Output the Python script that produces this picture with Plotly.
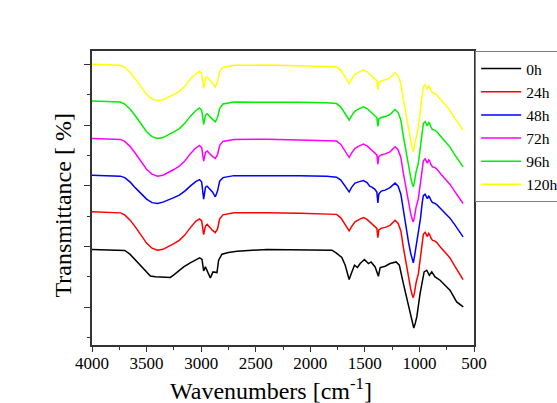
import plotly.graph_objects as go

# Shared wavenumber grid for the 24h-120h spectra (cm^-1)
wn = [4000, 3850, 3740, 3700, 3650, 3600, 3550, 3500, 3450, 3400,
      3350, 3300, 3250, 3200, 3150, 3100, 3050, 3015, 2995, 2977,
      2960, 2945, 2920, 2895, 2870, 2850, 2830, 2800, 2700, 2400,
      2100, 1850, 1760, 1720, 1690, 1665, 1644, 1620, 1590, 1550,
      1513, 1480, 1455, 1436, 1410, 1390, 1381, 1372, 1350, 1314,
      1270, 1223, 1195, 1170, 1147, 1120, 1100, 1080, 1065, 1056,
      1045, 1030, 1010, 990, 975, 964, 948, 935, 927, 915,
      907, 895, 880, 860, 841, 800, 760, 720, 680, 640,
      600]

t120 = [280.4, 279.9, 279.4, 277.4, 272.4, 265.4, 257.4, 250.4, 245.9, 244.0,
        244.9, 247.4, 250.4, 253.4, 258.4, 265.4, 270.9, 273.4, 271.4, 256.4,
        266.4, 267.9, 264.4, 261.9, 258.0, 263.4, 273.4, 277.4, 279.4, 279.6,
        278.9, 278.4, 277.9, 274.4, 269.4, 264.4, 261.4, 265.9, 270.4, 272.9,
        274.7, 272.9, 270.4, 268.9, 266.4, 263.9, 254.7, 262.4, 263.9, 264.9,
        266.9, 272.0, 268.9, 261.4, 244.7, 227.4, 214.4, 203.4, 196.4, 193.0,
        199.4, 209.4, 218.0, 235.4, 249.4, 258.0, 260.0, 256.9, 255.7, 258.9,
        258.0, 254.4, 251.9, 251.4, 249.7, 244.4, 239.4, 234.4, 227.4, 220.4,
        214.7]

t96 = [243.7, 243.3, 242.8, 240.7, 235.5, 228.5, 220.2, 213.0, 208.2, 206.4,
       207.2, 209.8, 212.9, 216.2, 221.4, 228.4, 234.0, 236.8, 234.5, 220.4,
       229.7, 231.0, 227.7, 225.4, 223.0, 227.0, 236.5, 240.7, 242.7, 242.9,
       242.4, 241.9, 241.2, 237.7, 232.7, 227.8, 224.8, 229.2, 233.7, 236.2,
       237.9, 236.2, 233.7, 232.2, 229.7, 227.2, 218.3, 225.7, 227.2, 228.2,
       230.2, 235.3, 232.2, 224.7, 208.5, 191.2, 178.2, 167.4, 160.7, 158.0,
       163.5, 173.2, 181.5, 198.7, 212.7, 221.3, 223.3, 220.2, 219.0, 222.2,
       221.3, 217.7, 215.2, 214.7, 213.0, 207.7, 202.7, 197.7, 190.7, 183.7,
       178.0]

t72 = [206.4, 206.0, 205.4, 203.4, 198.2, 191.1, 182.8, 175.6, 170.7, 168.7,
       169.6, 172.2, 175.3, 178.6, 183.8, 190.9, 196.7, 199.4, 197.2, 183.7,
       192.4, 193.8, 190.5, 188.2, 186.4, 190.2, 199.4, 203.4, 205.4, 205.6,
       204.9, 204.4, 203.9, 200.4, 195.4, 190.4, 187.4, 191.9, 196.4, 198.9,
       200.7, 198.9, 196.4, 194.9, 192.4, 189.9, 180.7, 188.4, 189.9, 190.9,
       192.9, 198.0, 194.9, 187.4, 171.4, 154.4, 141.7, 131.2, 125.2, 123.0,
       128.4, 137.9, 146.0, 163.0, 176.4, 184.0, 186.0, 182.9, 181.7, 184.9,
       184.0, 180.4, 177.9, 177.4, 175.7, 170.4, 165.4, 160.4, 153.9, 147.4,
       141.4]

t48 = [169.7, 169.4, 168.7, 167.2, 162.7, 156.7, 150.7, 145.7, 142.2, 141.4,
       142.7, 144.7, 147.2, 149.7, 153.7, 158.7, 163.2, 165.2, 162.7, 145.7,
       157.7, 158.7, 155.7, 152.7, 148.0, 153.7, 163.7, 167.2, 169.2, 169.4,
       169.2, 168.7, 167.7, 164.7, 160.2, 155.7, 153.0, 157.7, 161.7, 163.2,
       164.2, 162.2, 158.7, 157.7, 155.7, 152.7, 142.0, 150.7, 153.7, 154.7,
       157.2, 161.7, 158.7, 150.7, 133.7, 115.7, 102.7, 91.7, 84.7, 82.0,
       88.7, 99.7, 109.7, 126.7, 141.7, 149.2, 150.7, 147.7, 146.2, 148.7,
       147.7, 144.7, 142.2, 141.7, 140.2, 135.7, 131.2, 126.7, 120.7, 114.2,
       108.0]

t24 = [133.0, 132.5, 132.0, 130.0, 124.7, 117.5, 109.2, 101.8, 96.7, 94.7,
       95.6, 98.2, 101.3, 104.6, 109.8, 117.0, 123.5, 126.0, 124.0, 110.3,
       119.0, 120.5, 117.0, 114.5, 112.3, 116.0, 126.0, 130.0, 132.0, 132.2,
       131.5, 131.0, 130.5, 127.0, 122.0, 117.0, 114.0, 118.5, 123.0, 125.5,
       127.3, 125.5, 123.0, 121.5, 119.0, 116.5, 107.3, 115.0, 116.5, 117.5,
       119.5, 124.6, 121.5, 114.0, 97.3, 80.0, 67.0, 56.0, 49.4, 47.4,
       52.5, 62.5, 71.0, 88.0, 102.0, 110.6, 112.6, 109.5, 108.3, 111.5,
       110.6, 107.0, 104.5, 104.0, 102.3, 97.0, 92.0, 87.0, 79.5, 72.0,
       65.4]

# 0h spectrum has its own grid
wn0 = [4000, 3850, 3740, 3700, 3650, 3586, 3530, 3465, 3420, 3350,
       3297, 3282, 3250, 3200, 3160, 3100, 3068, 3014, 2992, 2977,
       2961, 2940, 2916, 2891, 2855, 2840, 2809, 2750, 2671, 2397,
       2092, 1802, 1763, 1711, 1680, 1644, 1619, 1595, 1568, 1543,
       1504, 1467, 1443, 1406, 1376, 1360, 1314, 1269, 1214, 1184,
       1147, 1116, 1086, 1065, 1052, 1040, 1024, 994, 957, 933,
       909, 887, 857, 811, 720, 659, 630, 598]
t0 = [95.4, 95.3, 95.0, 94.5, 90.5, 83.0, 76.5, 69.0, 68.2, 68.0,
      67.4, 67.5, 70.0, 74.5, 78.0, 82.0, 84.0, 87.0, 85.5, 74.0,
      78.0, 73.0, 67.0, 73.0, 72.4, 84.7, 90.7, 92.5, 93.7, 95.4,
      94.7, 94.7, 92.0, 87.4, 79.7, 65.4, 73.0, 79.7, 77.4, 81.4,
      85.4, 81.4, 83.0, 78.0, 68.7, 77.4, 78.7, 81.4, 83.0, 79.7,
      61.4, 46.4, 31.4, 22.0, 17.0, 21.0, 28.0, 51.4, 73.0, 74.7,
      69.7, 73.0, 68.0, 64.7, 54.7, 43.0, 40.5, 38.0]

names = ["0h", "24h", "48h", "72h", "96h", "120h"]
colors = ["#000000", "#ff0000", "#0000ff", "#ff00ff", "#00ee00", "#ffff00"]
series = [(wn0, t0), (wn, t24), (wn, t48), (wn, t72), (wn, t96), (wn, t120)]

FONT = "Liberation Serif, Times New Roman, serif"
AX = "#333333"

fig = go.Figure()
for (x, y), n, c in zip(series, names, colors):
    fig.add_trace(go.Scatter(x=x, y=y, mode="lines", name=n,
                             line=dict(color=c, width=1.5)))

fig.update_layout(
    width=557, height=403,
    margin=dict(l=91.5, r=83, t=51, b=58.3, autoexpand=False),
    paper_bgcolor="white", plot_bgcolor="white",
    font=dict(family=FONT, size=17, color="black"),
    showlegend=True,
    legend=dict(x=1.003, y=1, xanchor="left", yanchor="top",
                bordercolor="#7f7f7f", borderwidth=1, bgcolor="white",
                font=dict(family=FONT, size=15.5, color="black"),
                itemwidth=40, tracegroupgap=0),
    xaxis=dict(range=[4000, 500], tick0=500, dtick=500,
               ticks="outside", ticklen=5, tickwidth=1.2, tickcolor=AX,
               ticklabelstandoff=-3,
               showline=True, mirror=True, linecolor=AX, linewidth=1.5,
               showgrid=False, zeroline=False,
               tickfont=dict(family=FONT, size=17, color="black"),
               minor=dict(ticks="outside", ticklen=3, dtick=250, tick0=250,
                          tickcolor=AX, tickwidth=1.2, showgrid=False)),
    yaxis=dict(range=[0, 293.7], tick0=37.7, dtick=60.67,
               ticks="outside", ticklen=6, tickwidth=1.2, tickcolor=AX,
               showticklabels=False,
               showline=True, mirror=True, linecolor=AX, linewidth=1.5,
               showgrid=False, zeroline=False,
               minor=dict(ticks="outside", ticklen=3, dtick=60.67, tick0=7.4,
                          tickcolor=AX, tickwidth=1.2, showgrid=False)),
    annotations=[
        dict(text="Wavenumbers [cm<sup>-1</sup>]", xref="paper", yref="paper",
             x=0.468, y=-0.151, xanchor="center", yanchor="middle",
             showarrow=False, font=dict(family=FONT, size=24, color="black")),
        dict(text="Transmittance [ %]", xref="paper", yref="paper",
             x=-0.077, y=0.473, xanchor="center", yanchor="middle",
             textangle=-90, showarrow=False,
             font=dict(family=FONT, size=24, color="black")),
    ],
)

fig.write_html(
    "out.html",
    config={"displayModeBar": False},
    post_script="document.body.style.margin='0px';document.body.style.overflow='hidden';",
)
